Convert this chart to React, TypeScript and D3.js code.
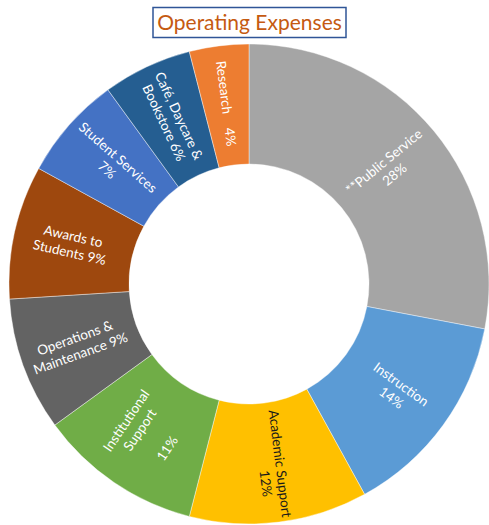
import React from "react";
import * as d3 from "d3";

const categories = [
  "**Public Service",
  "Instruction",
  "Academic Support",
  "Institutional Support",
  "Operations & Maintenance",
  "Awards to Students",
  "Student Services",
  "Café, Daycare & Bookstore",
  "Research",
];
const values = [28, 14, 12, 11, 9, 9, 7, 6, 4];
const colors = [
  "#a5a5a5",
  "#5b9bd5",
  "#ffc000",
  "#70ad47",
  "#636363",
  "#9e480e",
  "#4472c4",
  "#255e91",
  "#ed7d31",
];
// Label lines per slice; {p} is replaced by the slice's percentage.
const labelLines = [
  ["**Public Service", "{p}"],
  ["Instruction", "{p}"],
  ["Academic Support", "{p}"],
  ["Institutional", "Support", "", "{p}"],
  ["Operations &", "Maintenance {p}"],
  ["Awards to", "Students {p}"],
  ["Student Services", "{p}"],
  ["Café, Daycare &", "Bookstore {p}"],
  ["Research    {p}"],
];
const labelColors = ["#fff", "#fff", "#1a1a1a", "#fff", "#fff", "#fff", "#fff", "#fff", "#fff"];
const title = "Operating Expenses";

const W = 489;
const H = 525;
const cx = 249;
const cy = 284;
const outerR = 240;
const innerR = 120;
const labelR = 182;
const lineH = 16.5;
const font = "Lato, 'Open Sans', sans-serif";

export default function App() {
  const total = d3.sum(values);
  const pie = d3
    .pie<number>()
    .sort(null)
    .value((d) => d)
    .startAngle(0)
    .endAngle(2 * Math.PI);
  const arcs = pie(values);
  const arc = d3.arc<d3.PieArcDatum<number>>().innerRadius(innerR).outerRadius(outerR);

  return (
    <svg
      width={W}
      height={H}
      style={{ position: "absolute", left: 0, top: 0, background: "#fff" }}
    >
      <rect x={153} y={7.5} width={193} height={30} fill="#fff" stroke="#2f5597" strokeWidth={1.5} />
      <text
        x={249.5}
        y={30}
        textAnchor="middle"
        fontFamily={font}
        fontSize={21}
        fill="#c55a11"
      >
        {title}
      </text>
      <g transform={`translate(${cx},${cy})`}>
        {arcs.map((a, i) => (
          <path key={categories[i]} d={arc(a) || ""} fill={colors[i]} stroke="#fff" strokeWidth={0.6} strokeOpacity={0.7} />
        ))}
        {arcs.map((a, i) => {
          const mid = (a.startAngle + a.endAngle) / 2;
          const x = labelR * Math.sin(mid);
          const y = -labelR * Math.cos(mid);
          let deg = (mid * 180) / Math.PI - 90;
          if (deg > 90) deg -= 180;
          const pct = `${Math.round((values[i] / total) * 100)}%`;
          const lines = labelLines[i].map((l) => l.replace("{p}", pct));
          const n = lines.length;
          const shift = i === 2 ? 18 : 0;
          return (
            <g key={"l" + i} transform={`translate(${x},${y}) rotate(${deg})`}>
              <text
                textAnchor="middle"
                fontFamily={font}
                fontSize={13.5}
                fill={labelColors[i]}
                style={{ whiteSpace: "pre" }}
              >
                {lines.map((l, j) => (
                  <tspan
                    key={j}
                    x={j === n - 1 ? shift : 0}
                    y={(j - (n - 1) / 2) * lineH}
                    dy="0.35em"
                  >
                    {l}
                  </tspan>
                ))}
              </text>
            </g>
          );
        })}
      </g>
    </svg>
  );
}
